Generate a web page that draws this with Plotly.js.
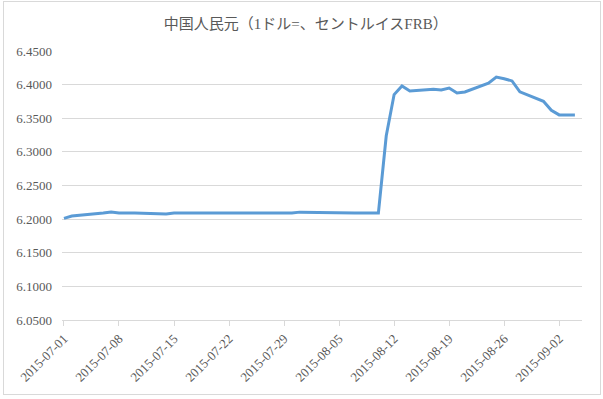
<!DOCTYPE html>
<html>
<head>
<meta charset="utf-8">
<script src="https://cdn.plot.ly/plotly-3.0.1.min.js"></script>
<style>
  html, body { margin: 0; padding: 0; background: #ffffff; }
  #wrap { position: relative; width: 603px; height: 399px; }
  #chart { position: absolute; left: 0; top: 0; width: 603px; height: 399px; }
  #frame { position: absolute; left: 3px; top: 1px; width: 596px; height: 392px;
           border: 1px solid #D9D9D9; pointer-events: none; }
</style>
</head>
<body>
<div id="wrap"><div id="chart"></div><div id="frame"></div></div>
<script>
const chartTitle = "中国人民元（1ドル=、セントルイスFRB）";

const dates = [
  "2015-07-01","2015-07-02","2015-07-06","2015-07-07","2015-07-08","2015-07-09","2015-07-10",
  "2015-07-13","2015-07-14","2015-07-15","2015-07-16","2015-07-17",
  "2015-07-20","2015-07-21","2015-07-22","2015-07-23","2015-07-24",
  "2015-07-27","2015-07-28","2015-07-29","2015-07-30","2015-07-31",
  "2015-08-03","2015-08-04","2015-08-05","2015-08-06","2015-08-07",
  "2015-08-10","2015-08-11","2015-08-12","2015-08-13","2015-08-14",
  "2015-08-17","2015-08-18","2015-08-19","2015-08-20","2015-08-21",
  "2015-08-24","2015-08-25","2015-08-26","2015-08-27","2015-08-28",
  "2015-08-31","2015-09-01","2015-09-02","2015-09-03","2015-09-04"
];

const rates = [
  6.2012, 6.2045, 6.2090, 6.2104, 6.2092, 6.2092, 6.2090,
  6.2080, 6.2078, 6.2090, 6.2090, 6.2090,
  6.2090, 6.2090, 6.2090, 6.2090, 6.2090,
  6.2090, 6.2090, 6.2090, 6.2090, 6.2104,
  6.2098, 6.2090, 6.2090, 6.2090, 6.2090,
  6.2090, 6.3240, 6.3852, 6.3980, 6.3905,
  6.3932, 6.3922, 6.3950, 6.3877, 6.3890,
  6.4020, 6.4112, 6.4088, 6.4055, 6.3893,
  6.3752, 6.3618, 6.3550, 6.3550, 6.3550
];

const tickDates = ["2015-07-01","2015-07-08","2015-07-15","2015-07-22","2015-07-29",
                   "2015-08-05","2015-08-12","2015-08-19","2015-08-26","2015-09-02"];
const tickLabels = tickDates.slice();

const yTicks = [6.05, 6.10, 6.15, 6.20, 6.25, 6.30, 6.35, 6.40, 6.45];
const yLabels = ["6.0500","6.1000","6.1500","6.2000","6.2500","6.3000","6.3500","6.4000","6.4500"];

const serif = "'Liberation Serif', 'Noto Sans CJK JP', serif";

Plotly.newPlot("chart", [{
  x: dates,
  y: rates,
  type: "scatter",
  mode: "lines",
  line: { color: "#5B9BD5", width: 3 },
  hoverinfo: "skip"
}], {
  width: 603,
  height: 399,
  paper_bgcolor: "rgba(0,0,0,0)",
  plot_bgcolor: "rgba(0,0,0,0)",
  margin: { l: 62, r: 21, t: 51, b: 79, pad: 0 },
  showlegend: false,
  title: {
    text: chartTitle,
    font: { family: serif, size: 15, color: "#595959" },
    x: 0.507, xref: "container", xanchor: "center",
    y: 1 - 24/399, yref: "container", yanchor: "middle"
  },
  xaxis: {
    type: "date",
    range: ["2015-06-30 18:00", "2015-09-04 21:40"],
    tickmode: "array",
    tickvals: tickDates,
    ticktext: tickLabels,
    tickangle: -45,
    tickfont: { family: serif, size: 13, color: "#595959" },
    showgrid: false,
    zeroline: false,
    showline: true,
    linecolor: "#D9D9D9",
    linewidth: 1,
    ticks: "outside",
    ticklen: 5,
    tickcolor: "#D9D9D9",
    fixedrange: true
  },
  yaxis: {
    range: [6.05, 6.45],
    tickmode: "array",
    tickvals: yTicks,
    ticktext: yLabels,
    tickfont: { family: serif, size: 13, color: "#595959" },
    showgrid: true,
    gridcolor: "#D9D9D9",
    gridwidth: 1,
    zeroline: false,
    showline: false,
    ticks: "",
    ticklabelstandoff: 9,
    fixedrange: true
  }
}, { staticPlot: true, displayModeBar: false });
</script>
</body>
</html>
